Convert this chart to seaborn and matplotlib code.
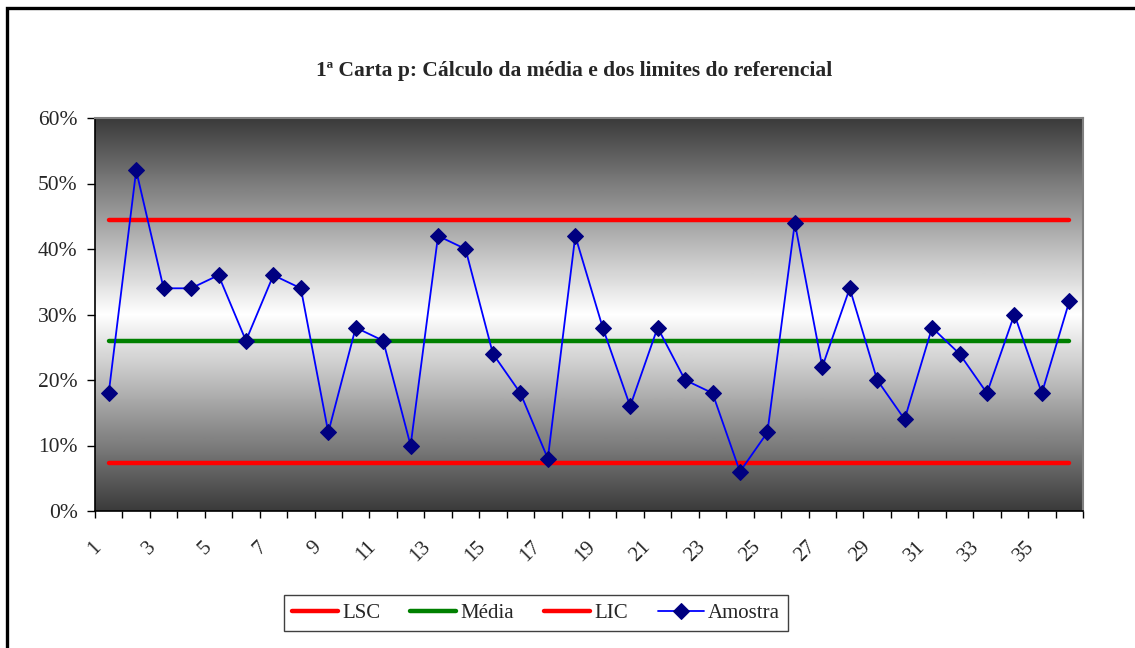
import numpy as np
import pandas as pd
import matplotlib
matplotlib.use("Agg")
import matplotlib.pyplot as plt
import matplotlib.patches as mpatches
import matplotlib.transforms as mtransforms
from matplotlib.ticker import PercentFormatter
import seaborn as sns

# Sample number and proportion of defectives per sample
amostra_ids = list(range(1, 37))
amostra = [0.18, 0.52, 0.34, 0.34, 0.36, 0.26, 0.36, 0.34, 0.12, 0.28,
           0.26, 0.10, 0.42, 0.40, 0.24, 0.18, 0.08, 0.42, 0.28, 0.16,
           0.28, 0.20, 0.18, 0.06, 0.12, 0.44, 0.22, 0.34, 0.20, 0.14,
           0.28, 0.24, 0.18, 0.30, 0.18, 0.32]

# Control limits of the p chart
lsc = 0.4447
media = 0.2589
lic = 0.0731

x_labels = [str(i) for i in range(1, 37, 2)]
y_ticks = [0.0, 0.1, 0.2, 0.3, 0.4, 0.5, 0.6]

sns.set_theme(style="white")
plt.rcParams["font.family"] = ["Liberation Serif", "DejaVu Serif"]

fig = plt.figure(figsize=(11.35, 6.48), dpi=100)
ax = fig.add_axes([95 / 1135, 1 - 511 / 648, (1083 - 95) / 1135, (511 - 118) / 648])

# Gradient fill: dark at top and bottom, white in the middle
grad = 1.0 - 0.77 * np.abs(np.linspace(-1, 1, 400))
ax.imshow(grad.reshape(-1, 1), cmap="gray", vmin=0, vmax=1, aspect="auto",
          extent=[0, 1, 0, 1], transform=ax.transAxes, zorder=0,
          interpolation="bilinear")

df = pd.DataFrame({"Amostra": amostra_ids, "p": amostra,
                   "LSC": [lsc] * len(amostra_ids),
                   "Media": [media] * len(amostra_ids),
                   "LIC": [lic] * len(amostra_ids)})

sns.lineplot(data=df, x="Amostra", y="LSC", ax=ax, color="#FF0000", lw=3.2,
             label="LSC", zorder=2)
sns.lineplot(data=df, x="Amostra", y="Media", ax=ax, color="#008000", lw=3.2,
             label="Média", zorder=2)
sns.lineplot(data=df, x="Amostra", y="LIC", ax=ax, color="#FF0000", lw=3.2,
             label="LIC", zorder=2)
sns.lineplot(data=df, x="Amostra", y="p", ax=ax, color="#0000FF", lw=1.3,
             marker="D", markersize=8, markerfacecolor="#000080",
             markeredgecolor="#000080", label="Amostra", zorder=3)

ax.set_xlim(0.5, 36.5)
ax.set_ylim(0, 0.6)
ax.set_xlabel("")
ax.set_ylabel("")

# Category axis: ticks at boundaries, labels at centres of odd samples
ax.set_xticks(np.arange(0.5, 37, 1.0))
ax.set_xticklabels([])
ax.set_xticks(range(1, 37, 2), labels=x_labels, minor=True)
ax.tick_params(axis="x", which="major", direction="out", length=5,
               width=1, color="black", bottom=True)
ax.tick_params(axis="x", which="minor", length=0, pad=19, labelsize=15)
offset = mtransforms.ScaledTranslation(-12 / 72, 0, fig.dpi_scale_trans)
for lbl in ax.get_xticklabels(minor=True):
    lbl.set_rotation(45)
    lbl.set_ha("right")
    lbl.set_va("top")
    lbl.set_rotation_mode("anchor")
    lbl.set_transform(lbl.get_transform() + offset)

ax.set_yticks(y_ticks)
ax.yaxis.set_major_formatter(PercentFormatter(xmax=1, decimals=0))
ax.tick_params(axis="y", direction="out", length=6, width=1, color="black",
               left=True, pad=6.5, labelsize=15.5)

for side in ["top", "right"]:
    ax.spines[side].set_color("#808080")
    ax.spines[side].set_linewidth(1.5)
for side in ["left", "bottom"]:
    ax.spines[side].set_color("black")
    ax.spines[side].set_linewidth(1.2)
ax.grid(False)

fig.text(574 / 1135, 1 - 71 / 648,
         "1ª Carta p: Cálculo da média e dos limites do referencial",
         ha="center", va="center", fontsize=15.5, fontweight="bold")

ax.legend_.remove()
handles, labels = ax.get_legend_handles_labels()
leg = fig.legend(handles, labels, loc="center", ncol=4,
                 bbox_to_anchor=(536 / 1135, 1 - 613 / 648),
                 fontsize=15, frameon=True, fancybox=False, framealpha=1,
                 edgecolor="#404040", handlelength=2.2, columnspacing=1.45,
                 handletextpad=0.2, borderpad=0.4)
leg.get_frame().set_linewidth(1.0)

# Chart border
fig.patches.append(mpatches.Rectangle((7 / 1135, -0.2), 1.5, 1.2 - 7.5 / 648,
                                      transform=fig.transFigure, fill=False,
                                      edgecolor="black", lw=2.4))

fig.savefig("out.png", dpi=100)
